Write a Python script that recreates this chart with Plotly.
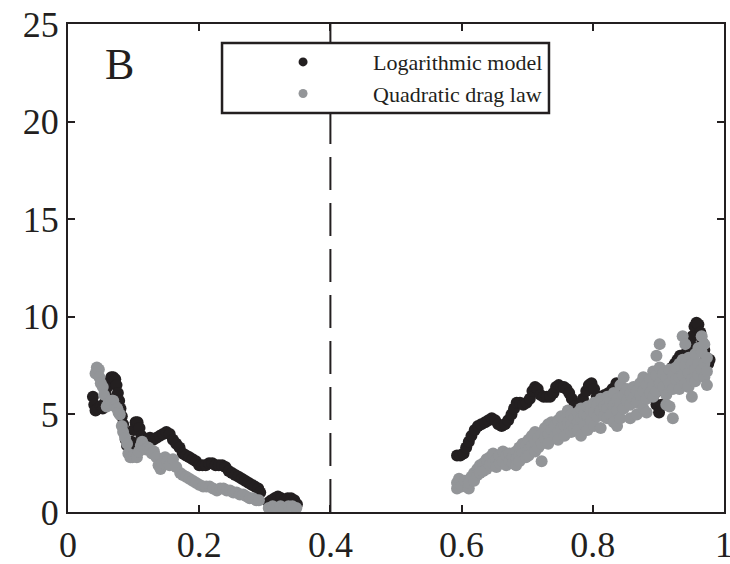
import plotly.graph_objects as go

# Logarithmic model, left branch
log_left_x = [0.038, 0.040, 0.042, 0.046, 0.050, 0.053, 0.056, 0.058, 0.060, 0.063,
              0.066, 0.069, 0.072, 0.074, 0.076, 0.078, 0.080, 0.082, 0.084, 0.086,
              0.088, 0.090, 0.094, 0.097, 0.100, 0.103, 0.106, 0.109, 0.112, 0.116,
              0.120, 0.125, 0.130, 0.135, 0.140, 0.145, 0.150, 0.155, 0.160, 0.165,
              0.170, 0.175, 0.180, 0.185, 0.190, 0.195, 0.200, 0.205, 0.210, 0.215,
              0.220, 0.225, 0.230, 0.235, 0.240, 0.245, 0.250, 0.255, 0.260, 0.265,
              0.270, 0.275, 0.280, 0.285, 0.290, 0.293, 0.306, 0.310, 0.315, 0.320,
              0.325, 0.330, 0.335, 0.340, 0.345, 0.349]
log_left_y = [5.9, 5.5, 5.2, 5.3, 5.4, 5.3, 5.6, 6.0, 6.4, 6.7,
              6.9, 6.9, 6.8, 6.5, 6.1, 5.7, 5.3, 4.9, 4.5, 4.1,
              3.7, 3.4, 3.3, 3.6, 4.2, 4.6, 4.6, 4.3, 3.9, 3.7,
              3.7, 3.8, 3.7, 3.8, 3.9, 4.0, 4.1, 4.0, 3.7, 3.5,
              3.3, 3.0, 2.9, 2.8, 2.7, 2.6, 2.4, 2.4, 2.4, 2.5,
              2.5, 2.4, 2.4, 2.4, 2.3, 2.1, 2.0, 1.9, 1.8, 1.7,
              1.6, 1.5, 1.4, 1.3, 1.2, 1.0, 0.5, 0.6, 0.7, 0.8,
              0.7, 0.6, 0.7, 0.7, 0.6, 0.4]

# Logarithmic model, right branch
log_right_x = [0.593, 0.598, 0.603, 0.607, 0.611, 0.615, 0.620, 0.625, 0.630, 0.636,
               0.641, 0.646, 0.651, 0.656, 0.661, 0.666, 0.671, 0.676, 0.680, 0.684,
               0.689, 0.694, 0.699, 0.704, 0.708, 0.712, 0.716, 0.720, 0.725, 0.730,
               0.735, 0.740, 0.744, 0.748, 0.752, 0.756, 0.760, 0.764, 0.768, 0.772,
               0.776, 0.780, 0.785, 0.790, 0.794, 0.798, 0.802, 0.806, 0.812, 0.818,
               0.824, 0.830, 0.836, 0.841, 0.846, 0.852, 0.858, 0.864, 0.870, 0.876,
               0.882, 0.888, 0.893, 0.897, 0.901, 0.905, 0.909, 0.913, 0.917, 0.921,
               0.925, 0.929, 0.933, 0.937, 0.941, 0.945, 0.949, 0.952, 0.955, 0.958,
               0.961, 0.964, 0.967, 0.970, 0.973, 0.976, 0.978]
log_right_y = [2.9, 2.9, 3.0, 3.3, 3.6, 3.9, 4.2, 4.4, 4.5, 4.6,
               4.7, 4.8, 4.7, 4.5, 4.4, 4.5, 4.7, 5.0, 5.3, 5.6,
               5.6, 5.5, 5.6, 5.8, 6.2, 6.4, 6.3, 6.0, 5.9, 5.9,
               5.9, 6.1, 6.4, 6.5, 6.4, 6.4, 6.3, 6.1, 5.8, 5.4,
               5.2, 5.5, 5.8, 6.2, 6.5, 6.6, 6.3, 5.9, 5.9, 6.0,
               6.1, 6.3, 6.6, 6.0, 5.8, 5.6, 5.6, 5.7, 6.0, 6.3,
               6.4, 6.2, 6.0, 5.5, 5.1, 5.5, 6.2, 6.7, 7.1, 7.4,
               7.6, 7.8, 8.0, 8.0, 8.1, 8.3, 8.6, 9.0, 9.5, 9.7,
               9.6, 9.2, 8.7, 8.3, 7.9, 7.6, 7.8]

# Quadratic drag law, left branch
quad_left_x = [0.042, 0.044, 0.047, 0.048, 0.050, 0.053, 0.055, 0.059, 0.062, 0.066,
               0.069, 0.072, 0.075, 0.077, 0.079, 0.082, 0.084, 0.087, 0.090, 0.092,
               0.095, 0.098, 0.101, 0.105, 0.108, 0.111, 0.113, 0.116, 0.119, 0.122,
               0.125, 0.128, 0.131, 0.135, 0.138, 0.141, 0.144, 0.148, 0.151, 0.155,
               0.160, 0.165, 0.171, 0.175, 0.180, 0.185, 0.190, 0.195, 0.200, 0.206,
               0.211, 0.216, 0.221, 0.227, 0.232, 0.237, 0.242, 0.247, 0.252, 0.257,
               0.262, 0.267, 0.272, 0.277, 0.282, 0.287, 0.291, 0.306, 0.312, 0.318,
               0.324, 0.330, 0.336, 0.342, 0.348]
quad_left_y = [7.1, 7.4, 7.3, 6.9, 6.6, 6.4, 6.0, 5.4, 5.6, 5.7,
               5.7, 5.4, 5.3, 5.1, 5.0, 4.4, 4.1, 3.8, 3.5, 3.0,
               2.8, 2.8, 2.9, 2.8, 3.1, 3.4, 3.6, 3.4, 3.2, 3.3,
               3.2, 3.0, 3.1, 2.8, 2.4, 2.2, 2.5, 2.8, 2.6, 2.4,
               2.7, 2.3, 2.0, 1.9, 1.8, 1.7, 1.6, 1.5, 1.4, 1.3,
               1.3, 1.3, 1.2, 1.1, 1.2, 1.2, 1.1, 1.1, 1.0, 1.0,
               0.9, 0.9, 0.8, 0.7, 0.7, 0.6, 0.6, 0.2, 0.3, 0.2,
               0.3, 0.2, 0.3, 0.3, 0.2]

# Quadratic drag law, right branch (scattered cloud)
quad_right_x = [0.593, 0.593, 0.596, 0.600, 0.605, 0.611, 0.611, 0.615, 0.619, 0.619,
                0.624, 0.624, 0.628, 0.628, 0.633, 0.633, 0.638, 0.638, 0.643, 0.643,
                0.648, 0.648, 0.653, 0.653, 0.658, 0.658, 0.663, 0.663, 0.668, 0.668,
                0.673, 0.673, 0.678, 0.678, 0.683, 0.683, 0.683, 0.688, 0.688, 0.688,
                0.693, 0.693, 0.698, 0.698, 0.702, 0.702, 0.702, 0.707, 0.707, 0.712,
                0.712, 0.712, 0.717, 0.717, 0.722, 0.722, 0.722, 0.727, 0.727, 0.732,
                0.732, 0.732, 0.737, 0.737, 0.742, 0.742, 0.747, 0.747, 0.747, 0.752,
                0.752, 0.757, 0.757, 0.757, 0.762, 0.762, 0.767, 0.767, 0.767, 0.772,
                0.772, 0.777, 0.777, 0.777, 0.782, 0.782, 0.782, 0.787, 0.787, 0.792,
                0.792, 0.792, 0.797, 0.797, 0.802, 0.802, 0.802, 0.807, 0.807, 0.812,
                0.812, 0.812, 0.817, 0.817, 0.822, 0.822, 0.822, 0.827, 0.827, 0.832,
                0.832, 0.832, 0.837, 0.837, 0.837, 0.842, 0.842, 0.842, 0.847, 0.847,
                0.847, 0.852, 0.852, 0.857, 0.857, 0.857, 0.862, 0.862, 0.867, 0.867,
                0.867, 0.872, 0.872, 0.877, 0.877, 0.877, 0.882, 0.882, 0.882, 0.887,
                0.887, 0.892, 0.892, 0.892, 0.897, 0.897, 0.897, 0.902, 0.902, 0.902,
                0.907, 0.907, 0.912, 0.912, 0.912, 0.917, 0.917, 0.917, 0.922, 0.922,
                0.922, 0.927, 0.927, 0.932, 0.932, 0.932, 0.937, 0.937, 0.937, 0.941,
                0.941, 0.941, 0.946, 0.946, 0.946, 0.951, 0.951, 0.951, 0.956, 0.956,
                0.956, 0.961, 0.961, 0.961, 0.966, 0.966, 0.966, 0.970, 0.970, 0.970,
                0.974, 0.974, 0.974]
quad_right_y = [1.2, 1.5, 1.7, 1.3, 1.6, 1.2, 1.5, 1.8, 2.0, 1.6,
                2.2, 1.9, 2.4, 2.0, 2.5, 2.1, 2.7, 2.2, 2.8, 2.4,
                3.0, 2.5, 2.7, 2.3, 2.9, 2.5, 3.1, 2.6, 2.9, 2.4,
                3.0, 2.6, 2.8, 2.5, 3.1, 2.7, 2.4, 3.3, 2.9, 2.6,
                3.5, 3.0, 3.4, 2.8, 3.7, 3.2, 2.9, 3.9, 3.4, 4.1,
                3.6, 3.1, 3.8, 3.3, 4.0, 3.5, 2.6, 4.3, 3.8, 4.5,
                4.0, 3.5, 4.6, 4.2, 4.4, 3.9, 4.7, 4.1, 3.7, 4.9,
                4.3, 4.7, 4.4, 3.9, 5.2, 4.6, 5.0, 4.5, 4.1, 4.8,
                4.3, 5.1, 4.6, 4.2, 5.3, 4.8, 3.9, 5.0, 4.5, 5.4,
                4.9, 4.2, 5.2, 4.7, 5.6, 5.1, 4.4, 5.5, 4.9, 5.8,
                5.2, 4.3, 5.4, 4.9, 5.9, 5.3, 4.8, 5.6, 5.0, 6.1,
                5.5, 4.6, 5.8, 5.2, 4.4, 6.5, 5.6, 4.8, 6.9, 6.0,
                5.3, 6.3, 5.7, 6.1, 5.5, 4.8, 6.4, 5.8, 6.2, 5.6,
                5.0, 6.6, 6.0, 6.9, 6.2, 5.3, 6.5, 5.8, 5.1, 6.8,
                6.1, 7.2, 6.5, 5.9, 8.0, 7.0, 6.2, 8.6, 7.4, 6.6,
                7.1, 6.4, 6.9, 6.0, 5.5, 7.3, 6.6, 5.4, 7.0, 6.3,
                4.8, 7.4, 6.8, 7.6, 6.9, 6.3, 9.0, 7.8, 7.0, 8.6,
                7.5, 6.6, 7.9, 7.1, 6.4, 7.6, 6.8, 5.9, 8.1, 7.3,
                6.7, 8.4, 7.6, 7.0, 9.0, 8.2, 7.3, 8.6, 7.6, 6.9,
                7.9, 7.2, 6.5]

x_ticks = [0, 0.2, 0.4, 0.6, 0.8, 1]
x_tick_labels = ["0", "0.2", "0.4", "0.6", "0.8", "1"]
y_ticks = [0, 5, 10, 15, 20, 25]
divider_x = 0.4

ink = "#231f20"
grey = "#939598"
serif = "Liberation Serif, Times New Roman, serif"

fig = go.Figure()
fig.add_trace(go.Scatter(x=log_left_x + log_right_x, y=log_left_y + log_right_y,
                         mode="markers", name="Logarithmic model", showlegend=False,
                         marker=dict(color=ink, size=12)))
fig.add_trace(go.Scatter(x=quad_left_x + quad_right_x, y=quad_left_y + quad_right_y,
                         mode="markers", name="Quadratic drag law", showlegend=False,
                         marker=dict(color=grey, size=12)))
# legend entries only (smaller symbols, like the original key)
fig.add_trace(go.Scatter(x=[None], y=[None], mode="markers", name="Logarithmic model",
                         marker=dict(color=ink, size=9)))
fig.add_trace(go.Scatter(x=[None], y=[None], mode="markers", name="Quadratic drag law",
                         marker=dict(color=grey, size=9)))

# dashed divider, then white legend box over it
fig.add_shape(type="line", x0=divider_x, x1=divider_x, y0=0, y1=25, xref="x", yref="y",
              line=dict(color=ink, width=2, dash="33px,13px"), layer="above")
fig.add_shape(type="rect", xref="paper", yref="paper", x0=0.2348, x1=0.7332,
              y0=0.8176, y1=0.961, fillcolor="white",
              line=dict(color=ink, width=2.5), layer="above")

fig.add_annotation(text="B", x=0.079, y=22.9, xref="x", yref="y", showarrow=False,
                   font=dict(family=serif, size=44, color=ink))

axis_style = dict(showgrid=False, zeroline=False, showline=True, linecolor=ink,
                  linewidth=2, mirror="ticks", ticks="inside", ticklen=7,
                  tickwidth=1.5, tickcolor=ink, automargin=False,
                  ticklabeloverflow="allow",
                  tickfont=dict(family=serif, size=36, color=ink))

fig.update_xaxes(range=[0, 1], tickvals=x_ticks, ticktext=x_tick_labels, **axis_style)
fig.update_yaxes(range=[0, 25], tickvals=y_ticks, **axis_style)

fig.update_layout(
    width=730, height=564,
    margin=dict(l=68, r=6, t=24, b=52),
    paper_bgcolor="white", plot_bgcolor="white",
    showlegend=True,
    legend=dict(x=0.2516, y=0.965, xanchor="left", yanchor="top",
                bgcolor="rgba(0,0,0,0)", borderwidth=0, itemwidth=130,
                font=dict(family=serif, size=22, color=ink)),
)

# drop the page's default body margin so the figure fills the window
fig.write_html("out.html", config={"displayModeBar": False},
               post_script="document.body.style.margin='0';document.body.style.overflow='hidden';")
